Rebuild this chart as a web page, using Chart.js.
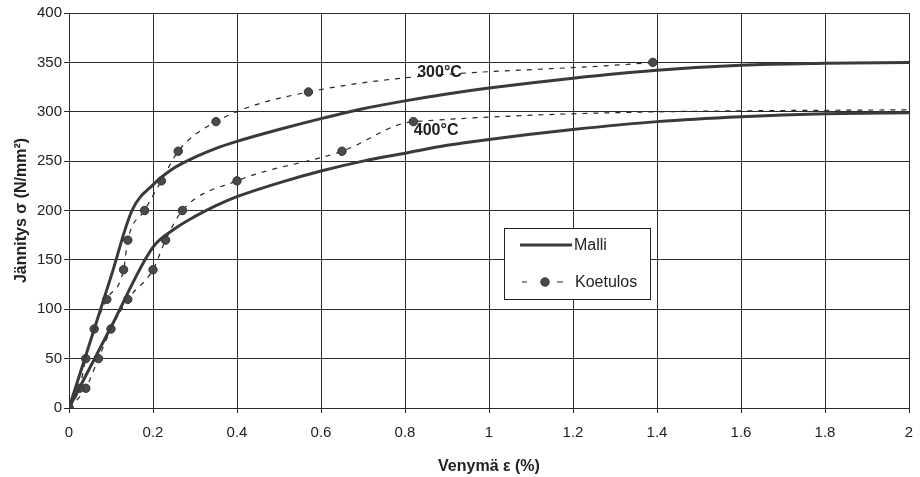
<!DOCTYPE html>
<html>
<head>
<meta charset="utf-8">
<script src="https://cdn.jsdelivr.net/npm/chart.js@4.4.0/dist/chart.umd.min.js"></script>
<style>
    body { margin: 0; background: #fff; }
    #wrap { width: 920px; height: 477px; }
</style>
</head>
<body>
<div id="wrap"><canvas id="stressChart" width="920" height="477"></canvas></div>
<script>
// Tick labels
const xTickLabels = ['0', '0.2', '0.4', '0.6', '0.8', '1', '1.2', '1.4', '1.6', '1.8', '2'];
const yTickLabels = ['0', '50', '100', '150', '200', '250', '300', '350', '400'];

// Malli (model curves), strain % / stress N/mm2
const model300Strain = [0, 0.1, 0.15, 0.2, 0.25, 0.3, 0.35, 0.4, 0.5, 0.6, 0.7, 0.8, 0.9, 1.0, 1.2, 1.4, 1.6, 1.8, 2.0];
const model300Stress = [0, 133, 200, 226, 243, 254, 263, 270, 282, 293, 303, 311, 318, 324, 334, 342, 347, 349, 350];
const model400Strain = [0, 0.1, 0.2, 0.25, 0.3, 0.35, 0.4, 0.5, 0.6, 0.7, 0.8, 0.9, 1.0, 1.2, 1.4, 1.6, 1.8, 2.0];
const model400Stress = [0, 82, 163, 181, 194, 205, 214, 228, 240, 250, 258, 266, 272, 282, 290, 295, 298, 299];

// Koetulos (test results)
const test300Strain = [0, 0.025, 0.04, 0.06, 0.09, 0.13, 0.14, 0.18, 0.22, 0.26, 0.35, 0.57, 1.39];
const test300Stress = [0, 20, 50, 80, 110, 140, 170, 200, 230, 260, 290, 320, 350];
const test400Strain = [0, 0.04, 0.07, 0.1, 0.14, 0.2, 0.23, 0.27, 0.4, 0.65, 0.82, 2.0];
const test400Stress = [0, 20, 50, 80, 110, 140, 170, 200, 230, 260, 290, 302];

// Curve labels
const curveLabels = ['300°C', '400°C'];
const curveLabelStrain = [0.829, 0.821];
const curveLabelStress = [340, 281];

const colors = {
    line: '#3a3a3a',
    dash: '#262626',
    dot: '#4a4a4a',
    grid: '#2a2a2a',
    text: '#222'
};
const FONT = 'Arial, "Liberation Sans", Helvetica, sans-serif';

function toPoints(xs, ys) {
    return xs.map((x, i) => ({ x: x, y: ys[i] }));
}

function modelDataset(label, xs, ys) {
    return {
        label: label,
        data: toPoints(xs, ys),
        borderColor: colors.line,
        borderWidth: 3,
        pointRadius: 0,
        cubicInterpolationMode: 'monotone',
        fill: false
    };
}

function testDataset(label, xs, ys, lastHidden) {
    return {
        label: label,
        data: toPoints(xs, ys),
        borderColor: colors.dash,
        borderWidth: 1.2,
        borderDash: [5, 6],
        pointRadius: xs.map((x, i) => (lastHidden && i === xs.length - 1) ? 0 : 4.2),
        pointBackgroundColor: colors.dot,
        pointBorderColor: '#333',
        pointBorderWidth: 1,
        cubicInterpolationMode: 'monotone',
        fill: false
    };
}

// Draws the 300/400 labels and the boxed legend inside the plot
const overlayPlugin = {
    id: 'overlay',
    afterDatasetsDraw(chart) {
        const ctx = chart.ctx;
        const xs = chart.scales.x;
        const ys = chart.scales.y;
        const area = chart.chartArea;
        ctx.save();

        ctx.fillStyle = colors.text;
        ctx.font = 'bold 16px ' + FONT;
        ctx.textAlign = 'left';
        ctx.textBaseline = 'middle';
        curveLabels.forEach((t, i) => {
            ctx.fillText(t, xs.getPixelForValue(curveLabelStrain[i]), ys.getPixelForValue(curveLabelStress[i]));
        });

        // legend box
        const bx = area.left + 435;
        const by = area.top + 215;
        const bw = 146;
        const bh = 71;
        ctx.fillStyle = '#fff';
        ctx.fillRect(bx, by, bw, bh);
        ctx.strokeStyle = '#222';
        ctx.lineWidth = 1;
        ctx.strokeRect(bx + 0.5, by + 0.5, bw, bh);

        ctx.strokeStyle = colors.line;
        ctx.lineWidth = 3;
        ctx.beginPath();
        ctx.moveTo(bx + 16, by + 17);
        ctx.lineTo(bx + 68, by + 17);
        ctx.stroke();

        const ky = by + 54;
        ctx.strokeStyle = colors.dash;
        ctx.lineWidth = 1.2;
        ctx.beginPath();
        ctx.moveTo(bx + 18, ky); ctx.lineTo(bx + 23, ky);
        ctx.moveTo(bx + 53, ky); ctx.lineTo(bx + 59, ky);
        ctx.stroke();
        ctx.fillStyle = colors.dot;
        ctx.beginPath();
        ctx.arc(bx + 41, ky, 4.2, 0, Math.PI * 2);
        ctx.fill();
        ctx.strokeStyle = '#333';
        ctx.lineWidth = 1;
        ctx.stroke();

        ctx.fillStyle = colors.text;
        ctx.font = '16px ' + FONT;
        ctx.fillText('Malli', bx + 70, by + 18);
        ctx.fillText('Koetulos', bx + 71, ky + 1);
        ctx.restore();
    }
};

document.addEventListener('DOMContentLoaded', () => {
    const ctx = document.getElementById('stressChart').getContext('2d');
    new Chart(ctx, {
        type: 'line',
        data: {
            datasets: [
                modelDataset('Malli 300°C', model300Strain, model300Stress),
                modelDataset('Malli 400°C', model400Strain, model400Stress),
                testDataset('Koetulos 300°C', test300Strain, test300Stress, false),
                testDataset('Koetulos 400°C', test400Strain, test400Stress, true)
            ]
        },
        options: {
            responsive: false,
            animation: false,
            layout: { padding: { left: 0, right: 11, top: 13, bottom: 0 } },
            plugins: {
                legend: { display: false },
                tooltip: { enabled: false }
            },
            scales: {
                x: {
                    type: 'linear',
                    min: 0,
                    max: 2,
                    afterFit: (scale) => {
                        scale.height = 69;
                        scale.paddingRight = 0;
                        scale.paddingLeft = 0;
                    },
                    afterBuildTicks: (scale) => {
                        scale.ticks = xTickLabels.map((t, i) => ({ value: i * 0.2 }));
                    },
                    ticks: {
                        callback: (value, index) => xTickLabels[index],
                        color: colors.text,
                        font: { family: FONT, size: 15 },
                        padding: 11,
                        maxRotation: 0
                    },
                    grid: { color: colors.grid, lineWidth: 1, tickLength: 5 },
                    border: { color: colors.grid, width: 1 },
                    title: {
                        display: true,
                        text: 'Venymä ε (%)',
                        color: colors.text,
                        font: { family: FONT, size: 16, weight: 'bold' },
                        padding: { top: 0, bottom: 1 }
                    }
                },
                y: {
                    type: 'linear',
                    min: 0,
                    max: 400,
                    afterFit: (scale) => { scale.width = 69; },
                    afterBuildTicks: (scale) => {
                        scale.ticks = yTickLabels.map((t, i) => ({ value: i * 50 }));
                    },
                    ticks: {
                        callback: (value, index) => yTickLabels[index],
                        color: colors.text,
                        font: { family: FONT, size: 15 },
                        padding: 2
                    },
                    grid: { color: colors.grid, lineWidth: 1, tickLength: 5 },
                    border: { color: colors.grid, width: 1 },
                    title: {
                        display: true,
                        text: 'Jännitys σ (N/mm²)',
                        color: colors.text,
                        font: { family: FONT, size: 16, weight: 'bold' },
                        padding: { top: 12, bottom: 0 }
                    }
                }
            }
        },
        plugins: [overlayPlugin]
    });
});
</script>
</body>
</html>
